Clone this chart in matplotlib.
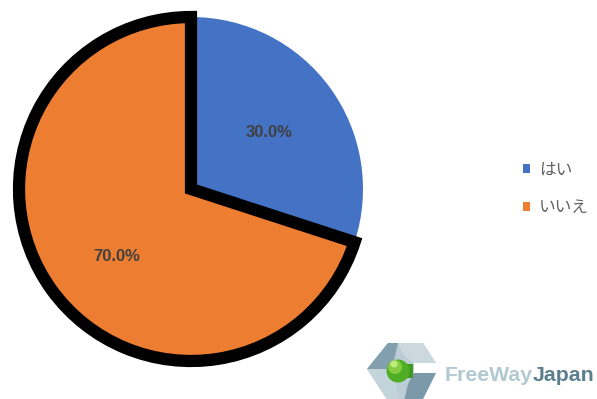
import matplotlib
matplotlib.use("Agg")
import numpy as np
import matplotlib.pyplot as plt
from matplotlib.patches import Patch, Polygon, Circle, Rectangle

labels = ["はい", "いいえ"]
values = [30.0, 70.0]
colors = ["#4472C4", "#ED7D31"]

W, H = 597, 399
fig = plt.figure(figsize=(W / 100, H / 100), dpi=100)
fig.patch.set_facecolor("white")

cx, cy, r = 191, 189, 172
ax = fig.add_axes([(cx - r) / W, (H - cy - r) / H, 2 * r / W, 2 * r / H])
wedges, texts, autotexts = ax.pie(
    values, colors=colors, startangle=90, counterclock=False,
    autopct="%1.1f%%", pctdistance=0.56, radius=1.0,
    textprops=dict(color="#404040", fontsize=12, fontweight="bold",
                   family=["Liberation Sans", "DejaVu Sans"]))
ax.set_xlim(-1, 1)
ax.set_ylim(-1, 1)
ax.set_aspect("equal")
ax.axis("off")
wedges[0].set_edgecolor("none")
wedges[1].set_edgecolor("black")
wedges[1].set_linewidth(8.8)
wedges[1].set_joinstyle("miter")
for w in wedges:
    w.set_clip_on(False)
for t in autotexts:
    t.set_zorder(5)
# Excel places the larger slice's label a little lower in the slice
ang = np.deg2rad(222.5)
autotexts[1].set_position((0.585 * np.cos(ang), 0.585 * np.sin(ang)))

handles = [Patch(facecolor=c, edgecolor="none") for c in colors]
leg = fig.legend(handles, labels, loc="center left",
                 bbox_to_anchor=(508 / W, 1 - 189 / H),
                 frameon=False, handlelength=0.45, handleheight=0.45,
                 handletextpad=0.5, labelspacing=1.25,
                 prop=dict(family=["Noto Sans CJK JP", "DejaVu Sans"], size=12))
for t in leg.get_texts():
    t.set_color("#606060")

# Logo overlay (decorative)
ov = fig.add_axes([0, 0, 1, 1], zorder=10)
ov.set_xlim(0, W)
ov.set_ylim(H, 0)
ov.axis("off")
ov.patch.set_alpha(0)
hexpts = [(367, 369), (388, 343), (423, 343), (436, 363), (414, 363),
          (414, 373), (436, 373), (422, 401), (388, 401)]
ov.add_patch(Polygon(hexpts, closed=True, facecolor="#bccdd5", edgecolor="none"))
ov.add_patch(Polygon([(367, 369), (388, 343), (398, 343), (392, 369)], facecolor="#819fad", edgecolor="none"))
ov.add_patch(Polygon([(398, 343), (423, 343), (436, 363), (414, 363), (404, 356)], facecolor="#cbd8de", edgecolor="none"))
ov.add_patch(Polygon([(367, 369), (392, 369), (400, 401), (388, 401)], facecolor="#c4d4db", edgecolor="none"))
ov.add_patch(Polygon([(414, 373), (436, 373), (422, 401), (404, 401), (408, 384)], facecolor="#7b99a8", edgecolor="none"))
ov.add_patch(Rectangle((401, 364), 12, 14, facecolor="#3f9a23", edgecolor="none"))
ov.add_patch(Circle((398, 371), 11.5, facecolor="#4fae26", edgecolor="none"))
ov.add_patch(Circle((395, 367), 7, facecolor="#86cc42", edgecolor="none"))
ov.add_patch(Circle((394, 364), 3.5, facecolor="#c0ea7e", edgecolor="none"))

t1 = ov.text(445, 381, "FreeWay", color="#b2c9d1", fontsize=15.3, fontweight="bold",
             family=["Liberation Sans", "DejaVu Sans"], va="baseline", ha="left")
ov.annotate("Japan", xy=(1, 0), xycoords=t1, va="bottom", ha="left",
            color="#5b7f8e", fontsize=15.3, fontweight="bold",
            family=["Liberation Sans", "DejaVu Sans"])

fig.savefig("out.png", dpi=100, facecolor="white")
